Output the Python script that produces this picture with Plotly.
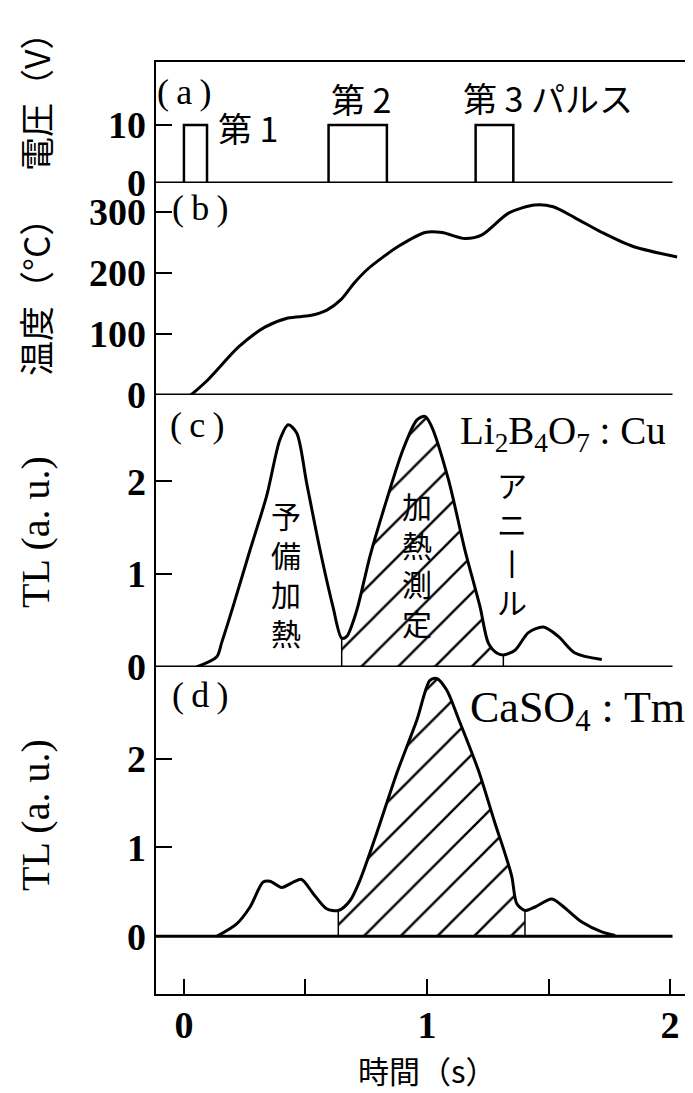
import plotly.graph_objects as go

# ---------------- data ----------------
# (a) voltage pulses
pulse_start = [0.0, 0.595, 1.20]
pulse_end = [0.095, 0.835, 1.355]
pulse_volt = [10, 10, 10]
pulse_labels = ["第 1", "第 2", "第 3 パルス"]
pulse_label_x = [0.132, 0.597, 1.14]
pulse_label_y = [9.5, 14.6, 14.8]

# (b) temperature (deg C)
temp_t = [0.029, 0.099, 0.226, 0.333, 0.428, 0.519, 0.588, 0.646, 0.700, 0.753,
          0.820, 0.881, 0.992, 1.062, 1.156, 1.226, 1.337, 1.444, 1.519, 1.609,
          1.720, 1.848, 2.029]
temp_c = [0, 25, 79, 111, 126, 130, 139, 156, 183, 205,
          226, 243, 266, 266, 256, 262, 298, 311, 308, 290,
          266, 243, 226]

# (c) TL of Li2B4O7:Cu
tlc_t = [0.052, 0.135, 0.155, 0.202, 0.272, 0.340, 0.395, 0.429, 0.464, 0.505,
         0.560, 0.613, 0.649, 0.670, 0.711, 0.765, 0.834, 0.901, 0.958, 0.992,
         1.019, 1.088, 1.156, 1.218, 1.252, 1.287, 1.314, 1.362, 1.417, 1.479,
         1.540, 1.609, 1.719]
tlc_v = [0.0, 0.11, 0.26, 0.65, 1.26, 1.84, 2.45, 2.61, 2.52, 1.98,
         1.26, 0.65, 0.31, 0.33, 0.61, 1.19, 1.80, 2.34, 2.66, 2.70,
         2.59, 2.02, 1.26, 0.65, 0.26, 0.15, 0.13, 0.18, 0.37, 0.43,
         0.33, 0.15, 0.08]
hatch_c = (0.649, 1.314)

# (d) TL of CaSO4:Tm
tld_t = [0.135, 0.217, 0.272, 0.326, 0.354, 0.402, 0.450, 0.484, 0.532, 0.587,
         0.635, 0.683, 0.724, 0.793, 0.875, 0.958, 1.012, 1.040, 1.081, 1.129,
         1.211, 1.280, 1.321, 1.349, 1.369, 1.403, 1.444, 1.513, 1.554, 1.637,
         1.719, 1.774]
tld_v = [0.0, 0.14, 0.33, 0.61, 0.62, 0.55, 0.61, 0.64, 0.48, 0.31,
         0.29, 0.40, 0.63, 1.16, 1.83, 2.43, 2.88, 2.90, 2.77, 2.45,
         1.87, 1.27, 0.93, 0.67, 0.37, 0.29, 0.33, 0.42, 0.35, 0.16,
         0.05, 0.01]
hatch_d = (0.635, 1.403)

x_ticks = [0, 0.5, 1, 1.5, 2]
x_ticktext = ["0", " ", "1", " ", "2"]

# ---------------- figure ----------------
# the page body has an 8px margin, so the figure is 8px smaller and offset
X_RANGE = [-0.119, 2.086]
BASE_END = 2.01
SERIF = "Liberation Serif"
CJK = "Noto Sans CJK JP"

fig = go.Figure()

# (a) pulses
px, py = [], []
for s, e, v in zip(pulse_start, pulse_end, pulse_volt):
    px += [s, s, e, e, None]
    py += [0, v, v, 0, None]
fig.add_trace(go.Scatter(x=px, y=py, mode="lines", yaxis="y",
                         line=dict(color="black", width=2.5)))

# (b) temperature
fig.add_trace(go.Scatter(x=temp_t, y=temp_c, mode="lines", yaxis="y2",
                         line=dict(color="black", width=3, shape="spline", smoothing=0.8)))


def add_tl(t, v, hatch, yax):
    t0, t1 = hatch
    ht = [a for a in t if t0 <= a <= t1]
    hv = [b for a, b in zip(t, v) if t0 <= a <= t1]
    fig.add_trace(go.Scatter(
        x=ht, y=hv, mode="lines", yaxis=yax, fill="tozeroy",
        fillcolor="black",
        fillpattern=dict(shape="/", size=26, solidity=0.09, fgopacity=1,
                         fgcolor="black", bgcolor="white", fillmode="replace"),
        line=dict(color="black", width=0.5, shape="spline", smoothing=0.8)))
    fig.add_trace(go.Scatter(
        x=[ht[0], ht[0], None, ht[-1], ht[-1]],
        y=[0, hv[0], None, 0, hv[-1]],
        mode="lines", yaxis=yax, line=dict(color="black", width=1.5)))
    fig.add_trace(go.Scatter(x=t, y=v, mode="lines", yaxis=yax,
                             line=dict(color="black", width=3, shape="spline", smoothing=0.8)))


add_tl(tlc_t, tlc_v, hatch_c, "y3")
add_tl(tld_t, tld_v, hatch_d, "y4")

ytick_font = dict(family=SERIF, size=38, color="black", weight="bold")
common_y = dict(showgrid=False, zeroline=False, ticks="inside", ticklen=17, tickwidth=2,
                tickcolor="black", tickfont=ytick_font, showline=False,
                anchor="x", ticklabelstandoff=8, fixedrange=True)

fig.update_layout(
    width=685, height=1085,
    margin=dict(l=147, r=2, t=53, b=98),
    paper_bgcolor="white", plot_bgcolor="white",
    showlegend=False,
    xaxis=dict(range=X_RANGE, showgrid=False, zeroline=False, showline=False,
               tickvals=x_ticks, ticktext=x_ticktext, ticks="inside", ticklen=16,
               tickwidth=2, tickcolor="black", tickfont=ytick_font, anchor="y4",
               ticklabelstandoff=4),
    yaxis=dict(domain=[0.8694, 1.0], range=[0, 21.0], tickvals=[0, 10], **common_y),
    yaxis2=dict(domain=[0.6424, 0.8694], range=[0, 347], tickvals=[0, 100, 200, 300], **common_y),
    yaxis3=dict(domain=[0.3512, 0.6424], range=[0, 2.93], tickvals=[0, 1, 2], **common_y),
    yaxis4=dict(domain=[0.0, 0.3512], range=[-0.66, 3.03], tickvals=[0, 1, 2], **common_y),
)

# frame and baselines
shapes = [dict(type="rect", xref="paper", yref="paper", x0=0, x1=1, y0=0, y1=1,
               line=dict(color="black", width=2))]
for yr in ["y", "y2", "y3", "y4"]:
    shapes.append(dict(type="line", xref="x", yref=yr, x0=X_RANGE[0], x1=BASE_END,
                       y0=0, y1=0, line=dict(color="black", width=3)))
fig.update_layout(shapes=shapes)

ann = []
def A(text, x, y, xref="x", yref="y", size=30, family=SERIF, xanchor="left", angle=0, **kw):
    ann.append(dict(text=text, x=x, y=y, xref=xref, yref=yref, showarrow=False,
                    xanchor=xanchor, yanchor="middle", textangle=angle,
                    font=dict(family=family, size=size, color="black"), **kw))

# panel letters
TS = "\u2009"
A(f"({TS}a{TS})", X_RANGE[0], 15.7, yref="y", size=36)
A(f"({TS}b{TS})", -0.058, 306, yref="y2", size=36)
A(f"({TS}c{TS})", -0.066, 2.61, yref="y3", size=36)
A(f"({TS}d{TS})", -0.058, 2.71, yref="y4", size=36)

for lab, lx, ly in zip(pulse_labels, pulse_label_x, pulse_label_y):
    A(lab, lx, ly, yref="y", size=34, family=CJK)

A("予<br>備<br>加<br>熱", 0.42, 1.01, yref="y3", size=30, family=CJK, xanchor="center")
A("加<br>熱<br>測<br>定", 0.958, 1.12, yref="y3", size=30, family=CJK, xanchor="center")
A("ア<br>ニ<br>丨<br>ル", 1.35, 1.34, yref="y3", size=30, family=CJK, xanchor="center")

A("Li<sub>2</sub>B<sub>4</sub>O<sub>7</sub> : Cu", 1.128, 2.52, yref="y3", size=39)
A("CaSO<sub>4</sub> : Tm", 1.169, 2.54, yref="y4", size=44)

# axis titles
TX = -0.2239
A("電圧（V）", TX, 0.9657, xref="paper", yref="paper", size=34, family=CJK,
  xanchor="center", angle=-90)
A("温度（°C）", TX, 0.757, xref="paper", yref="paper", size=35, family=CJK,
  xanchor="center", angle=-90)
A("TL (a. u.)", TX, 0.4957, xref="paper", yref="paper", size=40, family=SERIF,
  xanchor="center", angle=-90)
A("TL (a. u.)", TX, 0.1927, xref="paper", yref="paper", size=40, family=SERIF,
  xanchor="center", angle=-90)
A("時間（s）", 0.509, -0.0795, xref="paper", yref="paper", size=31, family=CJK,
  xanchor="center")

fig.update_layout(annotations=ann)
fig.write_html("out.html")
